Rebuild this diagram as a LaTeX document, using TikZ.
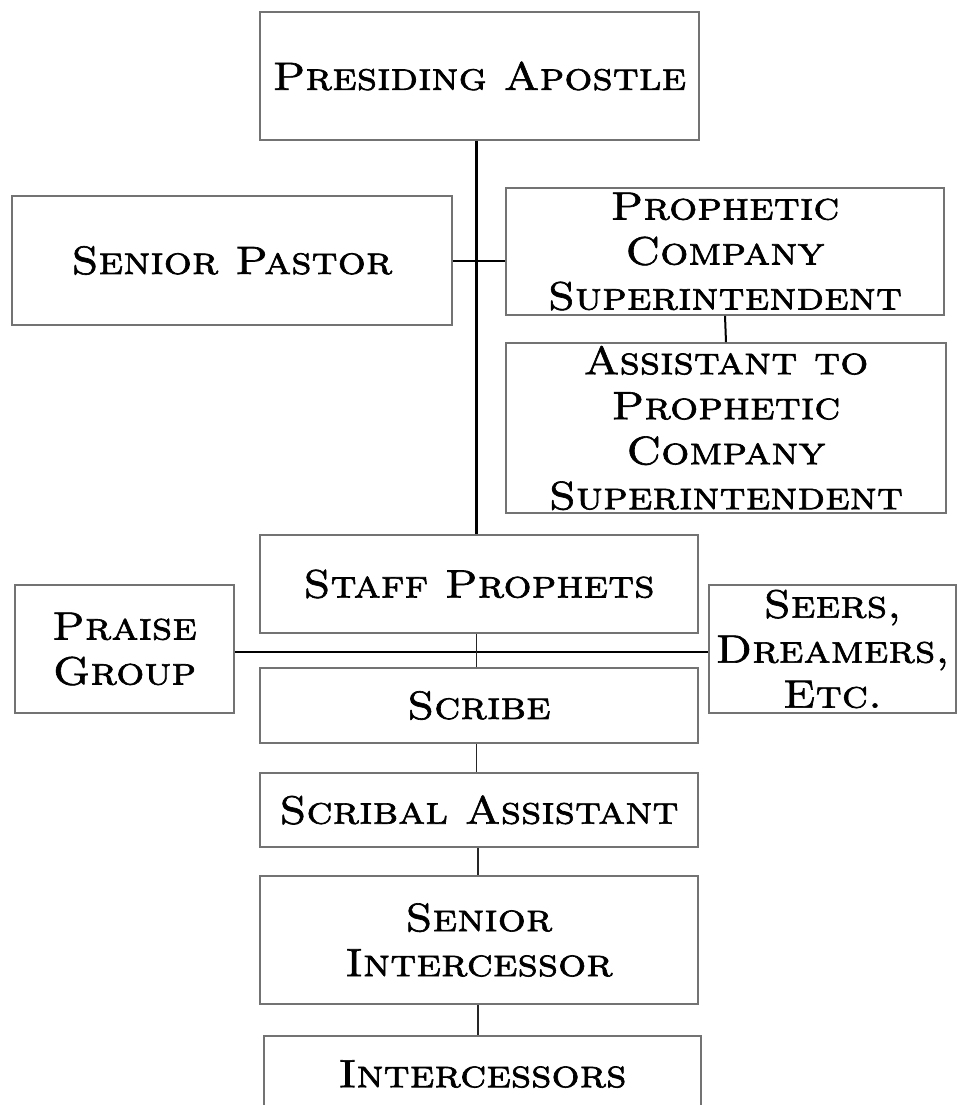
\documentclass[tikz,border=0pt]{standalone}
\usepackage{fontspec}
\newfontfamily\capsfont{lmromancaps10-regular.otf}[FakeStretch=1.12, FakeBold=1.6]
\usetikzlibrary{calc}
\begin{document}
\begin{tikzpicture}[x=1pt,y=-1pt,
  box/.style={draw=black!55, line width=1.6pt, rectangle, inner sep=0pt, align=center,
    font=\capsfont\fontsize{39.5}{45}\selectfont},
  conn/.style={draw=black, line width=2.4pt},
  thin/.style={draw=black!85, line width=1.3pt}]
\clip (0,0) rectangle (958,1105);
\fill[white] (0,0) rectangle (958,1105);
\node[box, minimum width=439pt, minimum height=128pt] (pa) at (479.5,76) {Presiding Apostle};
\node[box, minimum width=440pt, minimum height=129pt] (sp) at (232,260.5) {Senior Pastor};
\node[box, minimum width=438pt, minimum height=127pt] (pcs) at (725,251.5) {Prophetic\\Company\\Superintendent};
\node[box, minimum width=440pt, minimum height=170pt] (asst) at (726,428) {Assistant to\\Prophetic\\Company\\Superintendent};
\node[box, minimum width=438pt, minimum height=98pt] (staff) at (479,584) {Staff Prophets};
\node[box, minimum width=219pt, minimum height=128pt] (praise) at (124.5,649) {Praise\\Group};
\node[box, minimum width=247pt, minimum height=128pt] (seers) at (832.5,649) {Seers,\\Dreamers,\\Etc.};
\node[box, minimum width=438pt, minimum height=75pt] (scribe) at (479,705.5) {Scribe};
\node[box, minimum width=438pt, minimum height=74pt] (sa) at (479,810) {Scribal Assistant};
\node[box, minimum width=438pt, minimum height=128pt] (si) at (479,940) {Senior\\Intercessor};
\node[box, minimum width=437pt, minimum height=76pt] (int) at (482.5,1074) {Intercessors};
\coordinate (mx) at (476.5,0);
\coordinate (lx) at (478,0);
\draw[conn] (pa.south -| mx) -- (staff.north -| mx);
\draw[conn, line width=2pt] (sp.east) -- (sp.east -| pcs.west);
\draw[conn, line width=2pt] (pcs.south) -- (asst.north);
\draw[conn] ([yshift=-3pt]praise.east) -- ([yshift=-3pt]seers.west);
\draw[thin] (staff.south -| mx) -- (scribe.north -| mx);
\draw[thin] (scribe.south -| mx) -- (sa.north -| mx);
\draw[thin] (sa.south -| lx) -- (si.north -| lx);
\draw[thin] (si.south -| lx) -- (int.north -| lx);
\end{tikzpicture}
\end{document}
